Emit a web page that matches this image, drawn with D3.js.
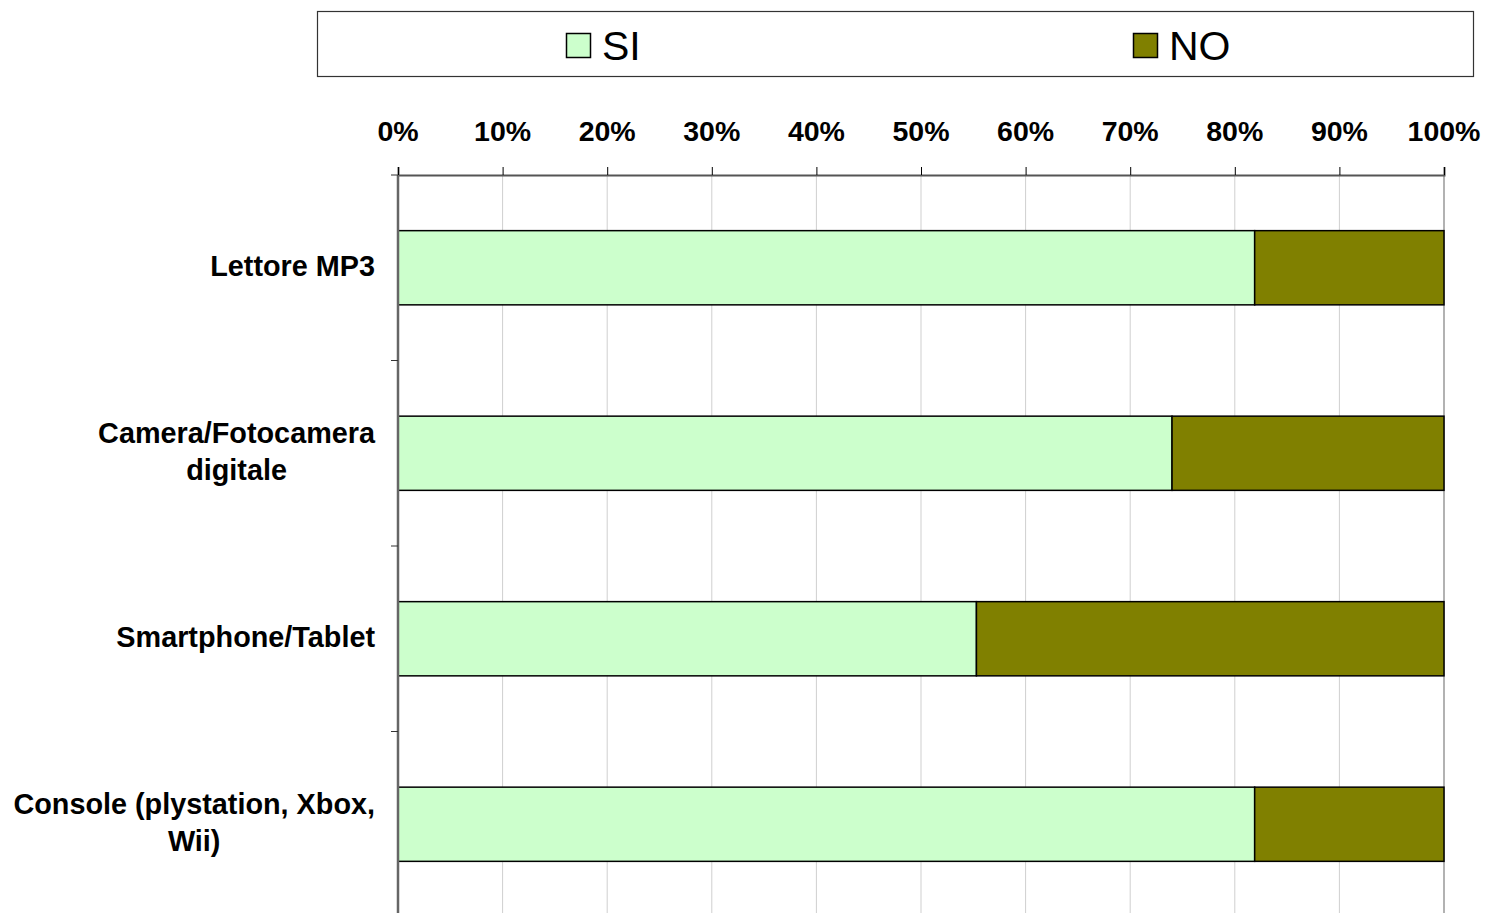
<!DOCTYPE html>
<html lang="it">
<head>
<meta charset="utf-8">
<title>SI / NO</title>
<style>
body { margin: 0; background: #fff; }
svg { display: block; font-family: "Liberation Sans", Arial, sans-serif; }
.tick-label { font-size: 28.5px; font-weight: bold; fill: #000; }
.cat-label { font-size: 28.8px; font-weight: bold; fill: #000; }
.legend-text { font-size: 41px; fill: #000; }
</style>
<script src="https://d3js.org/d3.v7.min.js"></script>
</head>
<body>
<div id="chart"></div>
<script>
var categories = [
    ["Lettore MP3"],
    ["Camera/Fotocamera", "digitale"],
    ["Smartphone/Tablet"],
    ["Console (plystation, Xbox,", "Wii)"]
];
var seriesNames = ["SI", "NO"];
var siValues = [0.819, 0.74, 0.553, 0.819];
var noValues = [0.181, 0.26, 0.447, 0.181];
var tickValues = [0, 0.1, 0.2, 0.3, 0.4, 0.5, 0.6, 0.7, 0.8, 0.9, 1];
var colors = ["#ccffcc", "#808000"];

var width = 1486, height = 913;
var plotLeft = 398, plotRight = 1444, plotTop = 175, plotBottom = 917;

var svg = d3.select("#chart").append("svg")
    .attr("width", width)
    .attr("height", height);

var keys = categories.map(function(c, i) { return "c" + i; });

var x = d3.scaleLinear().domain([0, 1]).range([plotLeft, plotRight]);
var y = d3.scaleBand().domain(keys).range([plotTop, plotBottom])
    .paddingInner(0.6).paddingOuter(0.3);

// gridlines
svg.append("g").selectAll("line")
    .data(tickValues.slice(1))
    .enter().append("line")
    .attr("x1", function(d) { return x(d); })
    .attr("x2", function(d) { return x(d); })
    .attr("y1", plotTop).attr("y2", height)
    .attr("stroke", function(d) { return d === 1 ? "#999" : "#cfcfcf"; })
    .attr("stroke-width", function(d) { return d === 1 ? 1.5 : 1; });

// stacked bars
var stackData = keys.map(function(k, i) {
    return { key: k, SI: siValues[i], NO: noValues[i] };
});
var stacked = d3.stack().keys(seriesNames)(stackData);

svg.append("g").selectAll("g")
    .data(stacked)
    .enter().append("g")
    .attr("fill", function(d, i) { return colors[i]; })
    .selectAll("rect")
    .data(function(d) { return d; })
    .enter().append("rect")
    .attr("x", function(d) { return x(d[0]); })
    .attr("width", function(d) { return x(d[1]) - x(d[0]); })
    .attr("y", function(d) { return y(d.data.key); })
    .attr("height", y.bandwidth())
    .attr("stroke", "#000")
    .attr("stroke-width", 1.5);

// top axis
var xAxis = d3.axisTop(x).tickValues(tickValues).tickSize(8).tickFormat("");
var xAxisG = svg.append("g")
    .attr("transform", "translate(0," + plotTop + ")")
    .call(xAxis);
xAxisG.select(".domain").attr("stroke", "#555").attr("stroke-width", 2);
xAxisG.selectAll(".tick line").attr("stroke", "#000").attr("stroke-width", 1);

svg.append("g").selectAll("text")
    .data(tickValues)
    .enter().append("text")
    .attr("class", "tick-label")
    .attr("x", function(d) { return x(d); })
    .attr("y", 141)
    .attr("text-anchor", "middle")
    .text(d3.format(".0%"));

// left axis
svg.append("line")
    .attr("x1", plotLeft).attr("x2", plotLeft)
    .attr("y1", plotTop).attr("y2", height)
    .attr("stroke", "#666").attr("stroke-width", 2.5);

var step = y.step();
svg.append("g").selectAll("line")
    .data(keys)
    .enter().append("line")
    .attr("x1", plotLeft - 7).attr("x2", plotLeft)
    .attr("y1", function(d) { return y(d) - step * y.paddingOuter(); })
    .attr("y2", function(d) { return y(d) - step * y.paddingOuter(); })
    .attr("stroke", "#333").attr("stroke-width", 1);

// category labels
var lineH = 37;
var labelRight = 375;
keys.forEach(function(k, i) {
    var lines = categories[i];
    var cy = y(k) + y.bandwidth() / 2;
    var g = svg.append("g");
    var texts = g.selectAll("text")
        .data(lines)
        .enter().append("text")
        .attr("class", "cat-label")
        .attr("text-anchor", "middle")
        .attr("y", function(d, j) {
            return cy + 8.5 + (j - (lines.length - 1) / 2) * lineH;
        })
        .text(function(d) { return d; });
    var maxW = 0;
    texts.each(function() { maxW = Math.max(maxW, this.getComputedTextLength()); });
    texts.attr("x", labelRight - maxW / 2);
});

// legend
svg.append("rect")
    .attr("x", 317.5).attr("y", 11.5)
    .attr("width", 1156).attr("height", 65)
    .attr("fill", "#fff").attr("stroke", "#333").attr("stroke-width", 1.2);

var legendX = [566, 1133];
var legend = svg.append("g").selectAll("g")
    .data(seriesNames)
    .enter().append("g")
    .attr("transform", function(d, i) { return "translate(" + legendX[i] + ",0)"; });
legend.append("rect")
    .attr("x", 0.5).attr("y", 33.5)
    .attr("width", 24).attr("height", 24)
    .attr("fill", function(d, i) { return colors[i]; })
    .attr("stroke", "#000").attr("stroke-width", 1.5);
legend.append("text")
    .attr("class", "legend-text")
    .attr("x", 36).attr("y", 60)
    .text(function(d) { return d; });
</script>
</body>
</html>
